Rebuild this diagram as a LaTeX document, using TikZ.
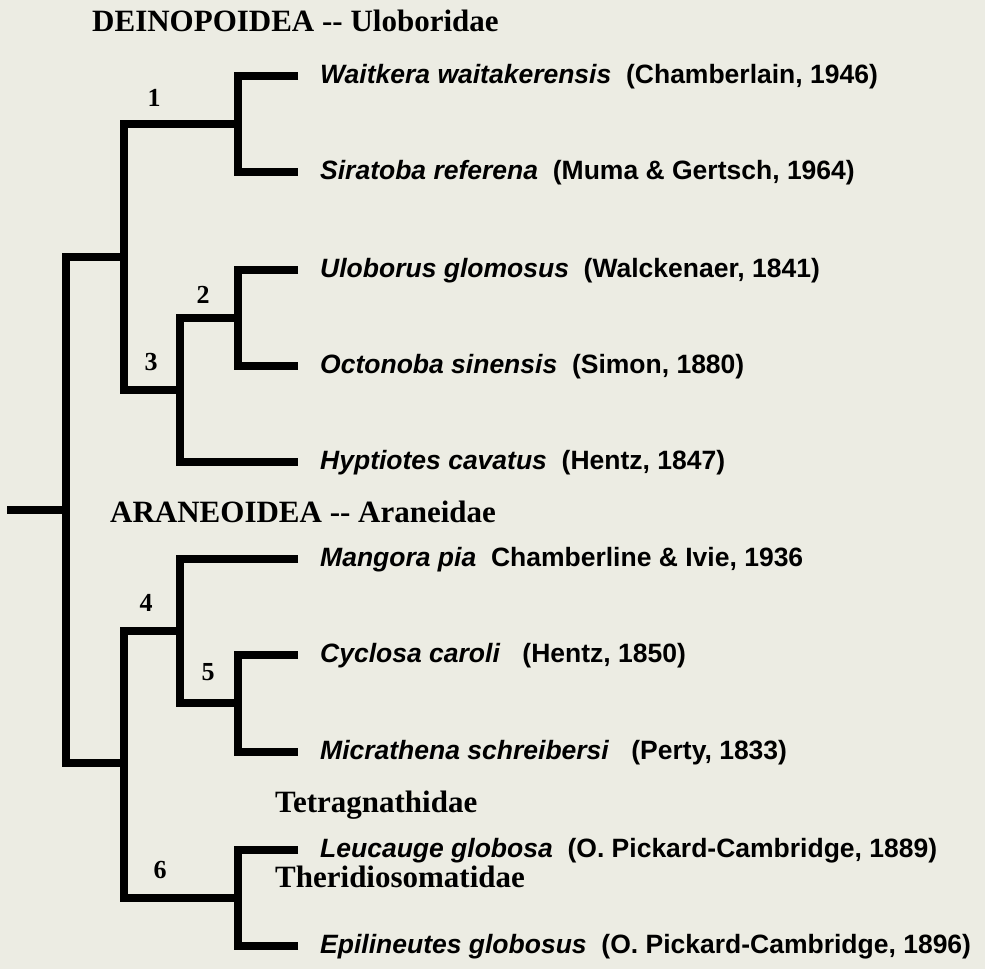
\documentclass[tikz,border=0pt]{standalone}
\usepackage{fontspec}
\setmainfont{Liberation Serif}
\setsansfont{Liberation Sans}
\definecolor{paper}{RGB}{236,236,227}

\begin{document}
\begin{tikzpicture}[x=1pt,y=-1pt,
  branch/.style={line width=7.5pt},
  taxon/.style={anchor=west,inner sep=0pt,font=\sffamily\bfseries\fontsize{26.5}{32}\selectfont},
  group/.style={anchor=west,inner sep=0pt,font=\bfseries\fontsize{31}{37}\selectfont},
  clade/.style={inner sep=0pt,font=\bfseries\fontsize{26}{31}\selectfont}]
\fill[paper] (0,0) rectangle (985,969);
\useasboundingbox (0,0) rectangle (985,969);
\coordinate (waitkera) at (298,76);
\coordinate (siratoba) at (298,172);
\coordinate (uloborus) at (298,270);
\coordinate (octonoba) at (298,366);
\coordinate (hyptiotes) at (298,462);
\coordinate (mangora) at (298,559);
\coordinate (cyclosa) at (298,655);
\coordinate (micrathena) at (298,752);
\coordinate (leucauge) at (298,850);
\coordinate (epilineutes) at (298,946);
\coordinate (n1) at (238,124);
\coordinate (n2) at (238,318);
\coordinate (n3) at (180,390);
\coordinate (n4) at (180,631);
\coordinate (n5) at (238,703);
\coordinate (n6) at (238,898);
\coordinate (deino) at (124,257);
\coordinate (aranei) at (124,763);
\coordinate (root) at (66,510);
\coordinate (stub) at (7,510);
\draw[branch] (waitkera) -| (n1) |- (siratoba);
\draw[branch] (uloborus) -| (n2) |- (octonoba);
\draw[branch] (n2) -| (n3) |- (hyptiotes);
\draw[branch] (n1) -| (deino) |- (n3);
\draw[branch] (cyclosa) -| (n5) |- (micrathena);
\draw[branch] (mangora) -| (n4) |- (n5);
\draw[branch] (leucauge) -| (n6);
\draw[branch] (epilineutes) -| (n6);
\draw[branch] (n4) -| (aranei) |- (n6);
\draw[branch] (deino) -| (root) |- (aranei);
\draw[branch] (stub) -- (root);
\node[group] (deinopoidea) at (92,21) {DEINOPOIDEA -{}- Uloboridae};
\node[group] (araneoidea) at (110,512) {ARANEOIDEA -{}- Araneidae};
\node[group] (tetragnathidae) at (275,805) {Tetragnathidae};
\node[group] (theridiosomatidae) at (275,877) {Theridiosomatidae};
\node[taxon] (twaitkera) at (320,77) {\textit{Waitkera waitakerensis}\ \ (Chamberlain, 1946)};
\node[taxon] (tsiratoba) at (320,173) {\textit{Siratoba referena}\ \ (Muma \& Gertsch, 1964)};
\node[taxon] (tuloborus) at (320,271) {\textit{Uloborus glomosus}\ \ (Walckenaer, 1841)};
\node[taxon] (toctonoba) at (320,367) {\textit{Octonoba sinensis}\ \ (Simon, 1880)};
\node[taxon] (thyptiotes) at (320,463) {\textit{Hyptiotes cavatus}\ \ (Hentz, 1847)};
\node[taxon] (tmangora) at (320,560) {\textit{Mangora pia}\ \ Chamberline \& Ivie, 1936};
\node[taxon] (tcyclosa) at (320,656) {\textit{Cyclosa caroli}\ \ \ (Hentz, 1850)};
\node[taxon] (tmicrathena) at (320,753) {\textit{Micrathena schreibersi}\ \ \ (Perty, 1833)};
\node[taxon] (tleucauge) at (320,851) {\textit{Leucauge globosa}\ \ (O. Pickard-Cambridge, 1889)};
\node[taxon] (tepilineutes) at (320,947) {\textit{Epilineutes globosus}\ \ (O. Pickard-Cambridge, 1896)};
\node[clade] (c1) at (154,98) {1};
\node[clade] (c2) at (203,295) {2};
\node[clade] (c3) at (151,362) {3};
\node[clade] (c4) at (146,603) {4};
\node[clade] (c5) at (208,672) {5};
\node[clade] (c6) at (160,870) {6};
\end{tikzpicture}
\end{document}
